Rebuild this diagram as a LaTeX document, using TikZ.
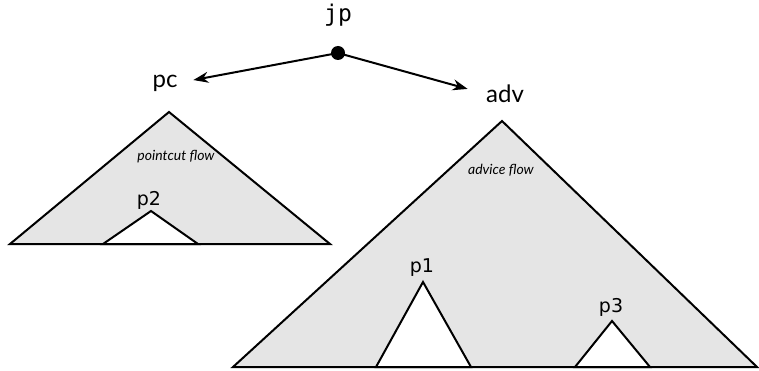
\documentclass[tikz,border=0pt]{standalone}
\usepackage{fontspec}
\setmainfont{Lato}
\newfontfamily\monofont{DejaVu Sans Mono}
\newfontfamily\plabfont{DejaVu Sans}
\usetikzlibrary{arrows.meta}
\definecolor{flowgray}{HTML}{E5E5E5}
\begin{document}
\begin{tikzpicture}[x=1pt,y=-1pt,
  tri/.style={draw=black,line width=2pt,line join=miter},
  bigtri/.style={tri,fill=flowgray},
  holetri/.style={tri,fill=white},
  lab/.style={inner sep=0pt,font=\fontsize{24}{26}\selectfont},
  plab/.style={inner sep=0pt,font=\plabfont\fontsize{19}{21}\selectfont},
  flowlab/.style={inner sep=0pt,font=\itshape\fontsize{14}{16}\selectfont},
  conn/.style={line width=2pt,-{Stealth[length=15pt,width=11pt]}}]
\useasboundingbox (0,0) rectangle (759,371);
% triangles
\draw[bigtri] (169,112) -- (330,244) -- (10,244) -- cycle;
\draw[holetri] (151,211) -- (198,244) -- (103,244) -- cycle;
\draw[bigtri] (502,121) -- (757,367) -- (233,367) -- cycle;
\draw[holetri] (423,282) -- (471,367) -- (376,367) -- cycle;
\draw[holetri] (612,321) -- (650,367) -- (575,367) -- cycle;
% labels
\node[lab,font=\monofont\fontsize{23}{25}\selectfont] (jp) at (338,15) {jp};
\node[circle,fill=black,inner sep=0pt,minimum size=14pt] (dot) at (338,53) {};
\node[lab] (pc) at (165,83) {pc};
\node[lab] (adv) at (505,94) {adv};
\node[flowlab] (pcf) at (176,157) {pointcut flow};
\node[flowlab] (advf) at (501,170) {advice flow};
\node[plab] (p2) at (149,200) {p2};
\node[plab] (p1) at (422,268) {p1};
\node[plab] (p3) at (611,307) {p3};
% connectors
\draw[conn,shorten >=16pt] (dot.center) -- (pc.east);
\draw[conn,shorten >=19pt] (dot.center) -- (adv.west);
\end{tikzpicture}
\end{document}
